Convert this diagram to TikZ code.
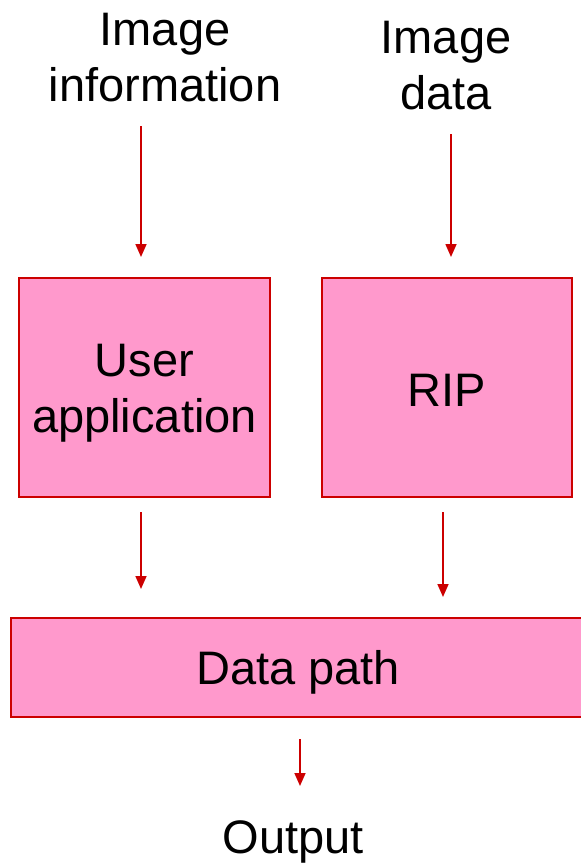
\documentclass[tikz,border=0pt]{standalone}
\usepackage{fontspec}
\setmainfont{Liberation Sans}
\usetikzlibrary{arrows.meta}
\definecolor{boxfill}{HTML}{FF99CC}
\definecolor{boxline}{HTML}{CC0000}
\begin{document}
\begin{tikzpicture}[x=1pt,y=-1pt,
  lbl/.style={align=center,font=\fontsize{47}{56}\selectfont,inner sep=0pt},
  blk/.style={draw=boxline,fill=boxfill,line width=2pt,minimum width=#1,inner sep=0pt},
  arr/.style={draw=boxline,line width=1.6pt,-{Triangle[width=11pt,length=13pt]}}]
\useasboundingbox (0,0) rectangle (581,865);
% boxes
\node[blk=251pt,minimum height=219pt] (ua) at (144.5,387.5) {};
\node[lbl] (uat) at ([yshift=-6pt]ua.center) {User\\application};
\node[blk=250pt,minimum height=219pt] (rip) at (447,387.5) {};
\node[lbl] (ript) at ([yshift=-3pt]rip.center) {RIP};
\node[blk=574pt,minimum height=99pt] (dp) at (298,667.5) {};
\node[lbl] (dpt) at ([yshift=-5pt]dp.center) {Data path};
% labels
\node[lbl] (ii) at (165,58) {Image\\information};
\node[lbl] (id) at (446,66) {Image\\data};
\node[lbl] (out) at (293,842) {Output};
% arrow coordinates
\coordinate (a1s) at (141,126); \coordinate (a1e) at (141,257);
\coordinate (a2s) at (451,134); \coordinate (a2e) at (451,257);
\coordinate (a3s) at (141,512); \coordinate (a3e) at (141,589);
\coordinate (a4s) at (443,512); \coordinate (a4e) at (443,597);
\coordinate (a5s) at (300,739); \coordinate (a5e) at (300,786);
\draw[arr] (a1s) -- (a1e);
\draw[arr] (a2s) -- (a2e);
\draw[arr] (a3s) -- (a3e);
\draw[arr] (a4s) -- (a4e);
\draw[arr] (a5s) -- (a5e);
\end{tikzpicture}
\end{document}
